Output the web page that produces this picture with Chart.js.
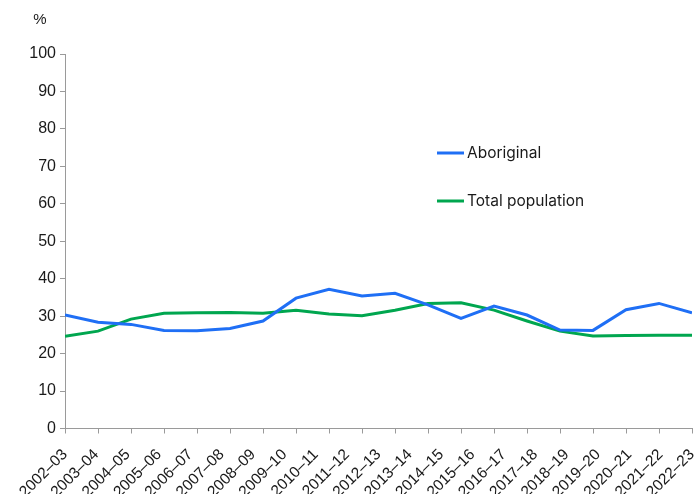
<!DOCTYPE html>
<html lang="en">
<head>
<meta charset="UTF-8">
<title>Aboriginal and total population</title>
<script src="https://cdn.jsdelivr.net/npm/chart.js@4"></script>
<style>
  html, body { margin: 0; padding: 0; background: #fff; }
  #wrap { width: 700px; height: 494px; }
</style>
</head>
<body>
<div id="wrap"><canvas id="chart"></canvas></div>
<script>
// category labels as printed under the axis (21 of them)
const years = [
  "2002–03", "2003–04", "2004–05", "2005–06", "2006–07", "2007–08", "2008–09",
  "2009–10", "2010–11", "2011–12", "2012–13", "2013–14", "2014–15", "2015–16",
  "2016–17", "2017–18", "2018–19", "2019–20", "2020–21", "2021–22", "2022–23"
];

// the reference plots 20 points on 20 tick marks under those labels
const aboriginal = [
  30.3, 28.4, 27.8, 26.2, 26.1, 26.7, 28.7, 34.8, 37.2, 35.4,
  36.1, 33.0, 29.4, 32.7, 30.3, 26.3, 26.2, 31.7, 33.4, 30.9
];
const totalPopulation = [
  24.6, 26.0, 29.2, 30.8, 30.9, 31.0, 30.8, 31.6, 30.6, 30.1,
  31.6, 33.4, 33.6, 31.6, 28.7, 26.0, 24.7, 24.8, 24.9, 24.9
];

const yTickValues = [0, 10, 20, 30, 40, 50, 60, 70, 80, 90, 100];

const BLUE = "#1f6ff5";
const GREEN = "#00a64f";
const AXIS = "#9a9a9a";
const TEXT = "#1a1a1a";
const yFont = { family: "'Liberation Sans', Arial, sans-serif", size: 16 };
const xFont = { family: "'Liberation Sans', Arial, sans-serif", size: 15.5 };

const toPoints = (arr) => arr.map((v, i) => ({ x: i, y: v }));

// legend drawn inside the plot, plus the "%" unit label
const extras = {
  id: "extras",
  afterDraw(chart) {
    const ctx = chart.ctx;
    ctx.save();
    ctx.fillStyle = TEXT;
    ctx.font = "15px 'Liberation Sans', Arial, sans-serif";
    ctx.textAlign = "center";
    ctx.textBaseline = "middle";
    ctx.fillText("%", 40, 20);

    const rows = [153, 201];
    ctx.textAlign = "left";
    ctx.font = "15.5px Inter, 'Noto Sans', sans-serif";
    chart.data.datasets.forEach((ds, i) => {
      const y = rows[i];
      ctx.strokeStyle = ds.borderColor;
      ctx.lineWidth = 3;
      ctx.beginPath();
      ctx.moveTo(437, y);
      ctx.lineTo(464, y);
      ctx.stroke();
      ctx.fillStyle = TEXT;
      ctx.fillText(ds.label, 467, y);
    });
    ctx.restore();
  }
};

new Chart(document.getElementById("chart"), {
  type: "line",
  data: {
    labels: years,
    datasets: [
      {
        label: "Aboriginal",
        data: toPoints(aboriginal),
        borderColor: BLUE,
        backgroundColor: BLUE,
        borderWidth: 3,
        pointRadius: 0,
        tension: 0,
        xAxisID: "x",
        yAxisID: "y"
      },
      {
        label: "Total population",
        data: toPoints(totalPopulation),
        borderColor: GREEN,
        backgroundColor: GREEN,
        borderWidth: 3,
        pointRadius: 0,
        tension: 0,
        xAxisID: "x",
        yAxisID: "y"
      }
    ]
  },
  options: {
    responsive: true,
    maintainAspectRatio: false,
    animation: false,
    layout: { padding: { top: 54, right: 8, left: 0, bottom: 0 } },
    plugins: {
      legend: { display: false },
      tooltip: { enabled: false }
    },
    scales: {
      x: {
        type: "linear",
        position: "bottom",
        min: 0,
        max: aboriginal.length - 1,
        ticks: { stepSize: 1, display: false },
        grid: { drawOnChartArea: false, drawTicks: true, tickLength: 5, color: AXIS },
        border: { color: AXIS, width: 1 },
        afterFit(scale) { scale.height = 6; }
      },
      xl: {
        type: "category",
        position: "bottom",
        offset: false,
        grid: { display: false },
        border: { display: false },
        ticks: {
          autoSkip: false,
          minRotation: 45,
          maxRotation: 45,
          color: TEXT,
          font: xFont,
          padding: 3
        },
        afterFit(scale) {
          scale.height = 59.5;
          scale.paddingLeft = 0;
          scale.paddingRight = 0;
        }
      },
      y: {
        min: 0,
        max: 100,
        afterBuildTicks(scale) {
          scale.ticks = yTickValues.map((v) => ({ value: v }));
        },
        ticks: { color: TEXT, font: yFont, padding: 4 },
        grid: { drawOnChartArea: false, drawTicks: true, tickLength: 5, color: AXIS },
        border: { color: AXIS, width: 1 },
        afterFit(scale) { scale.width = 65; }
      }
    }
  },
  plugins: [extras]
});
</script>
</body>
</html>
